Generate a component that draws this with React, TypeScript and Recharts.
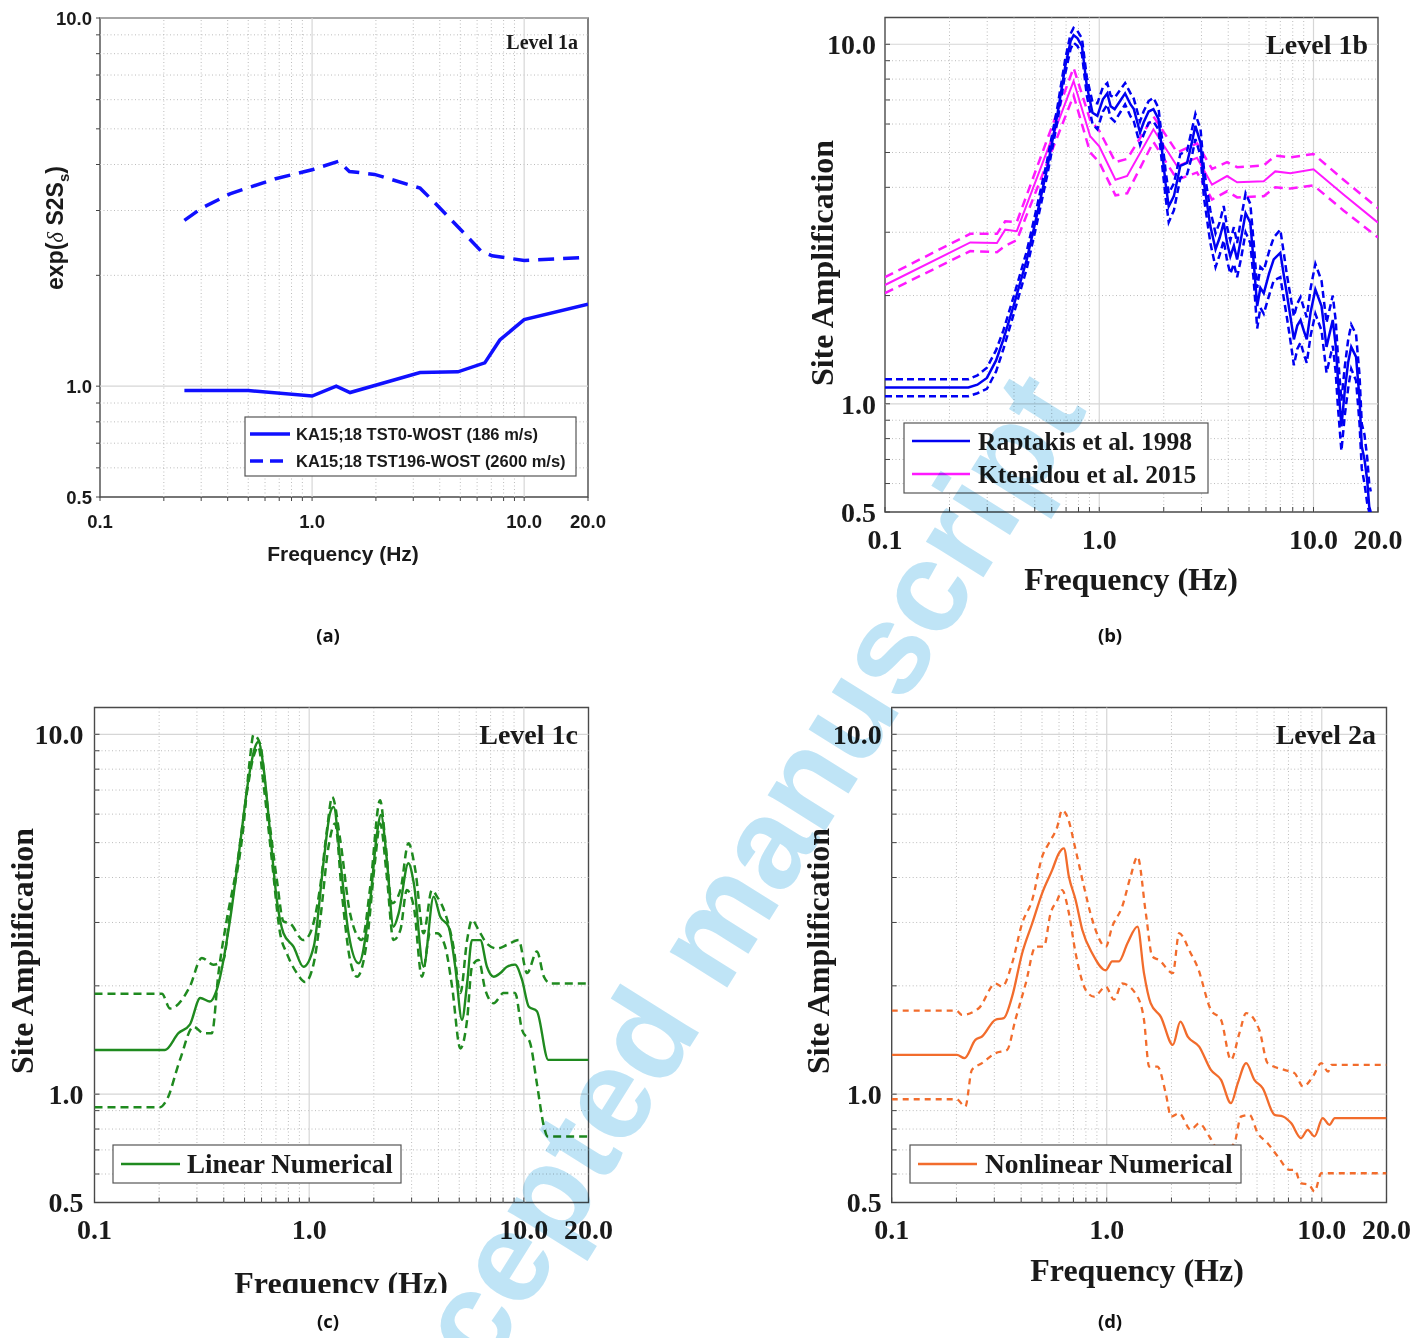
import React from 'react';
import { LineChart, Line, XAxis, YAxis, ReferenceLine, ReferenceArea } from 'recharts';

const SERIF = "'Liberation Serif', 'Times New Roman', Times, serif";
const SANS = "'Liberation Sans', Arial, Helvetica, sans-serif";

// ---------- ticks & grid ----------
const xTicks = [0.1, 0.2, 0.3, 0.4, 0.5, 0.6, 0.7, 0.8, 0.9, 1, 2, 3, 4, 5, 6, 7, 8, 9, 10, 20];
const xTickValues = [0.1, 1, 10, 20];
const xTickLabels = ['0.1', '1.0', '10.0', '20.0'];
const yTicks = [0.5, 0.6, 0.7, 0.8, 0.9, 1, 2, 3, 4, 5, 6, 7, 8, 9, 10];
const yTickValues = [0.5, 1, 10];
const yTickLabels = ['0.5', '1.0', '10.0'];
const xMinorGrid = [0.2, 0.3, 0.4, 0.5, 0.6, 0.7, 0.8, 0.9, 2, 3, 4, 5, 6, 7, 8, 9];
const xMajorGrid = [1, 10];
const yMinorGrid = [0.6, 0.7, 0.8, 0.9, 2, 3, 4, 5, 6, 7, 8, 9];
const yMajorGrid = [1, 10];

// ---------- Panel (a) ----------
const aSolidF = [0.25, 0.5, 1.0, 1.3, 1.51, 3.23, 4.87, 6.52, 7.68, 10, 20];
const aSolidV = [0.973, 0.973, 0.94, 1.0, 0.961, 1.089, 1.094, 1.157, 1.335, 1.516, 1.67];
const aDashF = [0.25, 0.3, 0.41, 0.673, 1.0, 1.33, 1.5, 1.97, 3.23, 3.81, 4.87, 6.25, 7.06, 10, 20];
const aDashV = [2.82, 3.04, 3.33, 3.66, 3.87, 4.08, 3.83, 3.76, 3.45, 3.14, 2.71, 2.33, 2.26, 2.195, 2.24];

// ---------- Panel (b) ----------
const bRapF = [0.1, 0.245, 0.27, 0.299, 0.33, 0.357, 0.398, 0.459, 0.51, 0.57, 0.636, 0.694, 0.735, 0.759, 0.79, 0.83, 0.875, 0.93, 0.98, 1.04, 1.09, 1.13, 1.18, 1.26, 1.32, 1.4, 1.45, 1.55, 1.61, 1.7, 1.79, 1.89, 1.96, 2.04, 2.11, 2.23, 2.39, 2.57, 2.7, 2.81, 2.97, 3.08, 3.3, 3.49, 3.65, 3.81, 3.95, 4.09, 4.25, 4.4, 4.6, 4.82, 5.07, 5.26, 5.46, 5.65, 5.86, 6.2, 6.52, 7.0, 7.25, 7.5, 7.8, 8.1, 8.4, 8.7, 9.0, 9.3, 9.7, 10.2, 10.9, 11.5, 12.3, 12.7, 13.0, 13.5, 14.0, 14.5, 15.0, 15.8, 16.4, 16.8, 17.3, 17.8, 18.2, 18.5];
const bRapV = [1.11, 1.11, 1.13, 1.18, 1.32, 1.51, 1.87, 2.52, 3.32, 4.49, 6.32, 8.69, 10.2, 10.6, 10.4, 9.9, 7.66, 6.45, 6.32, 7.03, 7.3, 6.72, 6.6, 7.0, 7.3, 6.8, 6.6, 5.68, 6.06, 6.5, 6.6, 6.2, 5.1, 4.1, 3.54, 3.78, 4.59, 4.68, 5.3, 5.93, 5.32, 4.12, 3.12, 2.69, 2.9, 3.19, 2.8, 2.57, 2.75, 2.52, 2.9, 3.39, 3.19, 2.47, 1.87, 2.1, 2.03, 2.3, 2.52, 2.63, 2.3, 2.03, 1.75, 1.51, 1.65, 1.71, 1.6, 1.51, 1.8, 2.08, 1.87, 1.44, 1.71, 1.45, 1.17, 0.865, 1.09, 1.3, 1.44, 1.35, 1.03, 0.76, 0.7, 0.614, 0.518, 0.5];
const bRapUpV = [1.17, 1.17, 1.2, 1.26, 1.41, 1.6, 1.98, 2.66, 3.5, 4.72, 6.62, 9.1, 10.7, 11.1, 10.9, 10.4, 8.1, 6.9, 6.85, 7.6, 7.8, 7.2, 7.1, 7.5, 7.8, 7.3, 7.05, 6.1, 6.5, 6.95, 7.1, 6.65, 5.5, 4.45, 3.85, 4.1, 4.95, 5.05, 5.75, 6.4, 5.8, 4.5, 3.45, 2.98, 3.2, 3.55, 3.1, 2.85, 3.1, 2.8, 3.3, 3.85, 3.6, 2.8, 2.1, 2.4, 2.35, 2.65, 2.9, 3.05, 2.65, 2.3, 2.0, 1.75, 1.9, 1.98, 1.85, 1.74, 2.1, 2.45, 2.2, 1.68, 2.0, 1.7, 1.36, 1.02, 1.27, 1.5, 1.66, 1.56, 1.2, 0.88, 0.82, 0.71, 0.6, 0.57];
const bRapLoV = [1.05, 1.05, 1.07, 1.1, 1.23, 1.42, 1.77, 2.38, 3.15, 4.28, 6.05, 8.3, 9.7, 10.1, 9.9, 9.4, 7.2, 6.0, 5.8, 6.5, 6.8, 6.25, 6.1, 6.5, 6.8, 6.3, 6.1, 5.25, 5.6, 6.05, 6.1, 5.8, 4.7, 3.75, 3.2, 3.45, 4.25, 4.35, 4.85, 5.45, 4.9, 3.75, 2.8, 2.4, 2.6, 2.85, 2.5, 2.3, 2.45, 2.25, 2.55, 3.0, 2.8, 2.2, 1.62, 1.85, 1.78, 2.0, 2.2, 2.25, 1.98, 1.75, 1.5, 1.28, 1.42, 1.48, 1.38, 1.3, 1.55, 1.78, 1.6, 1.22, 1.45, 1.22, 0.98, 0.74, 0.93, 1.1, 1.25, 1.16, 0.88, 0.66, 0.6, 0.53, 0.5, 0.5];
const bKtF = [0.1, 0.25, 0.333, 0.364, 0.412, 0.759, 0.907, 1.0, 1.19, 1.35, 1.79, 2.31, 2.86, 3.36, 3.95, 4.4, 5.86, 6.63, 7.8, 10, 13.8, 20];
const bKtV = [2.14, 2.81, 2.8, 3.05, 3.02, 7.9, 5.55, 5.2, 4.2, 4.3, 5.8, 4.58, 4.83, 4.07, 4.3, 4.13, 4.16, 4.43, 4.38, 4.49, 3.82, 3.19];
const bKtUpV = [2.25, 2.97, 2.97, 3.22, 3.2, 8.6, 6.15, 5.75, 4.7, 4.8, 6.3, 5.0, 5.3, 4.5, 4.7, 4.55, 4.6, 4.9, 4.85, 4.95, 4.2, 3.5];
const bKtLoV = [2.03, 2.66, 2.64, 2.75, 2.85, 7.2, 5.0, 4.7, 3.8, 3.85, 5.35, 4.2, 4.4, 3.7, 3.9, 3.75, 3.78, 4.0, 3.97, 4.05, 3.45, 2.9];

// ---------- Panel (c) ----------
const cSolidF = [0.1, 0.213, 0.246, 0.278, 0.311, 0.345, 0.371, 0.428, 0.477, 0.521, 0.56, 0.58, 0.612, 0.658, 0.707, 0.759, 0.845, 0.94, 1.05, 1.17, 1.25, 1.3, 1.395, 1.525, 1.7, 1.925, 2.07, 2.16, 2.3, 2.47, 2.61, 2.9, 3.07, 3.41, 3.8, 4.08, 4.46, 4.79, 5.15, 5.44, 5.73, 6.27, 6.73, 7.23, 7.77, 8.35, 9.1, 9.8, 10.55, 11.5, 13.0, 20];
const cSolidV = [1.327, 1.327, 1.477, 1.56, 1.85, 1.81, 1.95, 3.05, 4.98, 7.47, 9.23, 9.53, 8.14, 5.31, 3.46, 2.8, 2.57, 2.26, 2.57, 4.48, 6.03, 6.28, 4.48, 2.8, 2.31, 3.46, 5.31, 5.97, 4.48, 2.92, 3.18, 4.38, 3.86, 2.26, 3.54, 3.11, 2.92, 2.26, 1.61, 2.03, 2.68, 2.68, 2.26, 2.12, 2.17, 2.26, 2.29, 2.08, 1.75, 1.7, 1.245, 1.245];
const cUpF = [0.1, 0.206, 0.225, 0.278, 0.316, 0.358, 0.398, 0.428, 0.494, 0.531, 0.55, 0.59, 0.635, 0.707, 0.759, 0.815, 0.94, 1.01, 1.125, 1.21, 1.28, 1.395, 1.55, 1.76, 1.925, 2.14, 2.26, 2.43, 2.66, 2.9, 3.12, 3.41, 3.73, 3.94, 4.3, 4.7, 5.06, 5.44, 5.73, 6.15, 6.73, 7.51, 8.35, 9.45, 10.35, 11.5, 12.4, 13.3, 20];
const cUpV = [1.9, 1.9, 1.73, 1.99, 2.39, 2.29, 2.36, 3.18, 5.54, 8.66, 9.96, 9.43, 6.56, 3.94, 3.02, 2.98, 2.68, 2.8, 3.77, 5.42, 6.7, 5.09, 3.18, 2.68, 3.77, 6.56, 5.09, 3.39, 3.69, 4.98, 4.2, 2.8, 3.69, 3.54, 3.18, 2.57, 1.91, 2.68, 3.05, 2.86, 2.62, 2.54, 2.6, 2.68, 2.17, 2.49, 2.12, 2.03, 2.03];
const cLoF = [0.1, 0.202, 0.217, 0.25, 0.289, 0.322, 0.352, 0.378, 0.413, 0.46, 0.512, 0.55, 0.58, 0.612, 0.67, 0.732, 0.787, 0.876, 0.958, 1.05, 1.125, 1.23, 1.32, 1.42, 1.55, 1.67, 1.86, 2.03, 2.14, 2.3, 2.47, 2.66, 2.85, 3.07, 3.35, 3.66, 3.94, 4.3, 4.63, 5.06, 5.44, 5.73, 6.15, 6.61, 7.23, 8.05, 9.1, 9.8, 10.7, 11.5, 12.4, 12.9, 20];
const cLoV = [0.92, 0.92, 0.964, 1.245, 1.54, 1.477, 1.477, 2.17, 3.05, 4.29, 6.85, 8.66, 9.23, 7.3, 4.48, 2.8, 2.46, 2.17, 2.05, 2.31, 3.05, 4.87, 5.65, 3.61, 2.36, 2.12, 2.68, 4.48, 5.65, 4.02, 2.68, 2.86, 3.69, 3.32, 2.12, 2.8, 2.8, 2.57, 1.99, 1.34, 1.61, 2.26, 2.36, 1.95, 1.79, 1.91, 1.91, 1.51, 1.386, 1.07, 0.813, 0.763, 0.763];

// ---------- Panel (d) ----------
const dSolidF = [0.1, 0.201, 0.218, 0.245, 0.263, 0.304, 0.332, 0.363, 0.404, 0.45, 0.501, 0.558, 0.599, 0.632, 0.667, 0.717, 0.77, 0.857, 0.99, 1.06, 1.14, 1.25, 1.39, 1.49, 1.6, 1.785, 2.03, 2.2, 2.38, 2.69, 3.05, 3.4, 3.78, 4.07, 4.45, 4.86, 5.31, 6.03, 6.6, 7.2, 8.0, 8.6, 9.25, 10.1, 10.85, 11.5, 20];
const dSolidV = [1.286, 1.286, 1.259, 1.415, 1.446, 1.61, 1.626, 1.866, 2.46, 2.98, 3.62, 4.2, 4.67, 4.82, 4.02, 3.46, 2.86, 2.46, 2.21, 2.34, 2.34, 2.63, 2.92, 2.17, 1.79, 1.64, 1.37, 1.59, 1.446, 1.356, 1.168, 1.096, 0.944, 1.073, 1.22, 1.096, 1.04, 0.876, 0.867, 0.831, 0.755, 0.796, 0.763, 0.858, 0.822, 0.858, 0.858];
const dUpF = [0.1, 0.2, 0.212, 0.254, 0.304, 0.326, 0.363, 0.404, 0.45, 0.501, 0.538, 0.589, 0.62, 0.656, 0.717, 0.784, 0.857, 0.99, 1.06, 1.18, 1.29, 1.39, 1.52, 1.63, 1.75, 2.03, 2.17, 2.46, 2.64, 3.05, 3.4, 3.78, 4.14, 4.45, 5.12, 5.6, 6.7, 7.47, 8.18, 9.1, 9.95, 10.7, 11.1, 20];
const dUpV = [1.707, 1.707, 1.66, 1.733, 2.03, 1.99, 2.31, 2.98, 3.46, 4.57, 4.98, 5.54, 6.16, 5.9, 4.77, 3.77, 3.05, 2.57, 2.92, 3.32, 4.02, 4.57, 3.18, 2.41, 2.36, 2.17, 2.8, 2.46, 2.26, 1.715, 1.61, 1.245, 1.477, 1.68, 1.51, 1.22, 1.168, 1.144, 1.05, 1.12, 1.22, 1.155, 1.206, 1.206];
const dLoF = [0.1, 0.2, 0.22, 0.236, 0.263, 0.304, 0.344, 0.376, 0.42, 0.467, 0.51, 0.548, 0.589, 0.62, 0.667, 0.717, 0.798, 0.873, 0.99, 1.08, 1.18, 1.39, 1.49, 1.575, 1.72, 1.885, 1.99, 2.17, 2.46, 2.69, 3.0, 3.4, 3.92, 4.21, 4.61, 5.04, 5.6, 6.25, 7.08, 7.47, 8.0, 8.73, 9.25, 9.95, 20];
const dLoV = [0.968, 0.968, 0.924, 1.168, 1.22, 1.3, 1.327, 1.61, 2.03, 2.57, 2.57, 3.18, 3.46, 3.69, 3.18, 2.46, 1.95, 1.866, 1.99, 1.83, 2.03, 1.866, 1.61, 1.193, 1.193, 1.0, 0.866, 0.885, 0.796, 0.83, 0.763, 0.686, 0.731, 0.866, 0.876, 0.779, 0.731, 0.671, 0.616, 0.616, 0.566, 0.56, 0.536, 0.603, 0.603];

// ---------- colours ----------
const BLUE_A = '#1010ff';
const BLUE_B = '#0000f2';
const MAGENTA = '#ff19ff';
const GREEN = '#1f8a1f';
const ORANGE = '#f26c2c';

type Pt = { f: number; v: number };
const zip = (f: number[], v: number[]): Pt[] => f.map((x, i) => ({ f: x, v: v[i] }));

type Series = { f: number[]; v: number[]; color: string; width: number; dash?: string; curve: 'linear' | 'monotone' };
type Cfg = {
  box: { x: number; y: number; w: number; h: number };
  plot: { l: number; t: number; r: number; b: number };
  yMax: number;
  series: Series[];
  font: string;
  tickFontSize: number;
  tickSize: number;
  xTickMargin: number;
  yTickMargin: number;
  xTitle: { text: string; x: number; y: number; size: number };
  yTitle: { x: number; y: number; size: number; node: React.ReactNode };
};

function Panel({ cfg }: { cfg: Cfg }) {
  const { box, plot } = cfg;
  const yW = 40;
  const xH = 40;
  const margin = {
    left: plot.l - box.x - yW,
    right: box.x + box.w - plot.r,
    top: plot.t - box.y,
    bottom: box.y + box.h - plot.b - xH,
  };
  const fmtX = (v: number) => {
    const i = xTickValues.indexOf(v);
    return i < 0 ? '' : xTickLabels[i];
  };
  const fmtY = (v: number) => {
    const i = yTickValues.indexOf(v);
    return i < 0 ? '' : yTickLabels[i];
  };
  const tickStyle = { fill: '#1a1a1a', fontSize: cfg.tickFontSize, fontFamily: cfg.font, fontWeight: 700 };
  const XTitle = () => (
    <text
      x={cfg.xTitle.x - box.x}
      y={cfg.xTitle.y - box.y}
      textAnchor="middle"
      dominantBaseline="central"
      fill="#1a1a1a"
      style={{ fontFamily: cfg.font, fontSize: cfg.xTitle.size, fontWeight: 700 }}
    >
      {cfg.xTitle.text}
    </text>
  );
  const YTitle = () => {
    const x = cfg.yTitle.x - box.x;
    const y = cfg.yTitle.y - box.y;
    return (
      <text
        x={x}
        y={y}
        transform={`rotate(-90 ${x} ${y})`}
        textAnchor="middle"
        dominantBaseline="central"
        fill="#1a1a1a"
        style={{ fontFamily: cfg.font, fontSize: cfg.yTitle.size, fontWeight: 700 }}
      >
        {cfg.yTitle.node}
      </text>
    );
  };
  return (
    <div style={{ position: 'absolute', left: box.x, top: box.y, width: box.w, height: box.h, overflow: 'hidden' }}>
      <LineChart width={box.w} height={box.h} margin={margin}>
        <XAxis
          dataKey="f"
          type="number"
          scale="log"
          domain={[0.1, 20]}
          allowDataOverflow
          ticks={xTicks}
          interval={0}
          tickFormatter={fmtX}
          tickSize={cfg.tickSize}
          tickMargin={cfg.xTickMargin}
          axisLine={false}
          tickLine={{ stroke: '#444', strokeWidth: 1 }}
          tick={tickStyle}
          height={xH}
          label={XTitle}
        />
        <YAxis
          type="number"
          scale="log"
          domain={[0.5, cfg.yMax]}
          allowDataOverflow
          ticks={yTicks}
          interval={0}
          tickFormatter={fmtY}
          tickSize={cfg.tickSize}
          tickMargin={cfg.yTickMargin}
          axisLine={false}
          tickLine={{ stroke: '#444', strokeWidth: 1 }}
          tick={tickStyle}
          width={yW}
          label={YTitle}
        />
        {xMinorGrid.map((g) => (
          <ReferenceLine key={'xm' + g} x={g} stroke="#bcbcbc" strokeWidth={1} strokeDasharray="1 2.5" />
        ))}
        {yMinorGrid.map((g) => (
          <ReferenceLine key={'ym' + g} y={g} stroke="#bcbcbc" strokeWidth={1} strokeDasharray="1 2.5" />
        ))}
        {xMajorGrid.map((g) => (
          <ReferenceLine key={'xM' + g} x={g} stroke="#d6d6d6" strokeWidth={1.2} />
        ))}
        {yMajorGrid.map((g) => (
          <ReferenceLine key={'yM' + g} y={g} stroke="#d6d6d6" strokeWidth={1.2} />
        ))}
        {cfg.series.map((s, i) => (
          <Line
            key={i}
            data={zip(s.f, s.v)}
            dataKey="v"
            type={s.curve}
            stroke={s.color}
            strokeWidth={s.width}
            strokeDasharray={s.dash}
            dot={false}
            activeDot={false}
            isAnimationActive={false}
          />
        ))}
        <ReferenceArea
          x1={0.1}
          x2={20}
          y1={0.5}
          y2={cfg.yMax}
          fill="none"
          fillOpacity={0}
          stroke="#4a4a4a"
          strokeWidth={1.4}
          ifOverflow="visible"
        />
      </LineChart>
    </div>
  );
}

const YMAX = 11.87;

const panelA: Cfg = {
  box: { x: 0, y: 0, w: 620, h: 590 },
  plot: { l: 100, t: 18, r: 588, b: 497 },
  yMax: 10,
  series: [
    { f: aDashF, v: aDashV, color: BLUE_A, width: 3.5, dash: '16 9', curve: 'linear' },
    { f: aSolidF, v: aSolidV, color: BLUE_A, width: 3.5, curve: 'linear' },
  ],
  font: SANS,
  tickFontSize: 18.5,
  tickSize: 4,
  xTickMargin: 13.4,
  yTickMargin: 4,
  xTitle: { text: 'Frequency (Hz)', x: 343, y: 553, size: 21 },
  yTitle: {
    x: 55,
    y: 228,
    size: 23,
    node: (
      <>
        exp(
        <tspan style={{ fontFamily: SERIF, fontStyle: 'italic', fontWeight: 400 }}>δ</tspan> S2S
        <tspan baselineShift="sub" style={{ fontSize: 15 }}>s</tspan>)
      </>
    ),
  },
};

const panelB: Cfg = {
  box: { x: 720, y: 0, w: 707, h: 605 },
  plot: { l: 885, t: 17.5, r: 1378, b: 512 },
  yMax: YMAX,
  series: [
    { f: bKtF, v: bKtUpV, color: MAGENTA, width: 2.5, dash: '9 6', curve: 'linear' },
    { f: bKtF, v: bKtLoV, color: MAGENTA, width: 2.5, dash: '9 6', curve: 'linear' },
    { f: bKtF, v: bKtV, color: MAGENTA, width: 2, curve: 'linear' },
    { f: bRapF, v: bRapUpV, color: BLUE_B, width: 2.5, dash: '7 4', curve: 'linear' },
    { f: bRapF, v: bRapLoV, color: BLUE_B, width: 2.5, dash: '7 4', curve: 'linear' },
    { f: bRapF, v: bRapV, color: BLUE_B, width: 2.5, curve: 'linear' },
  ],
  font: SERIF,
  tickFontSize: 28,
  tickSize: -5,
  xTickMargin: 22.6,
  yTickMargin: 14,
  xTitle: { text: 'Frequency (Hz)', x: 1131, y: 579, size: 32 },
  yTitle: { x: 822, y: 263, size: 32, node: 'Site Amplification' },
};

const panelC: Cfg = {
  box: { x: 0, y: 660, w: 640, h: 633 },
  plot: { l: 94.5, t: 707.5, r: 588.5, b: 1202.5 },
  yMax: YMAX,
  series: [
    { f: cUpF, v: cUpV, color: GREEN, width: 2.5, dash: '8 5', curve: 'monotone' },
    { f: cLoF, v: cLoV, color: GREEN, width: 2.5, dash: '8 5', curve: 'monotone' },
    { f: cSolidF, v: cSolidV, color: GREEN, width: 2.4, curve: 'monotone' },
  ],
  font: SERIF,
  tickFontSize: 28,
  tickSize: -5,
  xTickMargin: 22,
  yTickMargin: 16,
  xTitle: { text: 'Frequency (Hz)', x: 341, y: 1283, size: 32 },
  yTitle: { x: 22, y: 951, size: 32, node: 'Site Amplification' },
};

const panelD: Cfg = {
  box: { x: 720, y: 660, w: 707, h: 633 },
  plot: { l: 891.7, t: 707.5, r: 1386.5, b: 1202.5 },
  yMax: YMAX,
  series: [
    { f: dUpF, v: dUpV, color: ORANGE, width: 2.3, dash: '6 5', curve: 'monotone' },
    { f: dLoF, v: dLoV, color: ORANGE, width: 2.3, dash: '6 5', curve: 'monotone' },
    { f: dSolidF, v: dSolidV, color: ORANGE, width: 2.3, curve: 'monotone' },
  ],
  font: SERIF,
  tickFontSize: 28,
  tickSize: -5,
  xTickMargin: 22,
  yTickMargin: 15,
  xTitle: { text: 'Frequency (Hz)', x: 1137, y: 1270, size: 32 },
  yTitle: { x: 818, y: 951, size: 32, node: 'Site Amplification' },
};

function Overlay() {
  const serifBold = { fontFamily: SERIF, fontWeight: 700 } as const;
  const sansBold = { fontFamily: SANS, fontWeight: 700 } as const;
  const capStyle = { fontFamily: "'Open Sans', 'Noto Sans', Arial, sans-serif", fontWeight: 700, fontSize: 18.5 } as const;
  return (
    <svg width={1427} height={1338} style={{ position: 'absolute', left: 0, top: 0, pointerEvents: 'none' }}>
      {/* panel titles */}
      <text x={578} y={49} textAnchor="end" fill="#1a1a1a" style={{ ...serifBold, fontSize: 20 }}>Level 1a</text>
      <text x={1368} y={54} textAnchor="end" fill="#1a1a1a" style={{ ...serifBold, fontSize: 28 }}>Level 1b</text>
      <text x={578} y={744} textAnchor="end" fill="#1a1a1a" style={{ ...serifBold, fontSize: 28 }}>Level 1c</text>
      <text x={1376} y={744} textAnchor="end" fill="#1a1a1a" style={{ ...serifBold, fontSize: 28 }}>Level 2a</text>

      {/* legend a */}
      <rect x={245} y={417} width={331} height={59} fill="#fff" stroke="#555" strokeWidth={1.2} />
      <line x1={250} x2={290} y1={434} y2={434} stroke={BLUE_A} strokeWidth={3.5} />
      <line x1={250} x2={290} y1={461} y2={461} stroke={BLUE_A} strokeWidth={3.5} strokeDasharray="13 7" />
      <text x={296} y={440} fill="#1a1a1a" style={{ ...sansBold, fontSize: 16.5 }}>KA15;18 TST0-WOST (186 m/s)</text>
      <text x={296} y={467} fill="#1a1a1a" style={{ ...sansBold, fontSize: 16.5 }}>KA15;18 TST196-WOST (2600 m/s)</text>

      {/* legend b */}
      <rect x={904} y={423} width={304} height={70} fill="#fff" stroke="#555" strokeWidth={1.2} />
      <line x1={912} x2={970} y1={441} y2={441} stroke={BLUE_B} strokeWidth={2.5} />
      <line x1={912} x2={970} y1={474} y2={474} stroke={MAGENTA} strokeWidth={2.5} />
      <text x={978} y={450} fill="#1a1a1a" style={{ ...serifBold, fontSize: 25.5 }}>Raptakis et al. 1998</text>
      <text x={978} y={483} fill="#1a1a1a" style={{ ...serifBold, fontSize: 25.5 }}>Ktenidou et al. 2015</text>

      {/* legend c */}
      <rect x={113} y={1145} width={288} height={38} fill="#fff" stroke="#555" strokeWidth={1.2} />
      <line x1={121} x2={180} y1={1164} y2={1164} stroke={GREEN} strokeWidth={2.5} />
      <text x={187} y={1173} fill="#1a1a1a" style={{ ...serifBold, fontSize: 27 }}>Linear Numerical</text>

      {/* legend d */}
      <rect x={910} y={1145} width={331} height={38} fill="#fff" stroke="#555" strokeWidth={1.2} />
      <line x1={918} x2={977} y1={1164} y2={1164} stroke={ORANGE} strokeWidth={2.5} />
      <text x={985} y={1173} fill="#1a1a1a" style={{ ...serifBold, fontSize: 27.5 }}>Nonlinear Numerical</text>

      {/* captions */}
      <text x={328} y={642} textAnchor="middle" fill="#111" style={capStyle}>(a)</text>
      <text x={1110} y={642} textAnchor="middle" fill="#111" style={capStyle}>(b)</text>
      <text x={328} y={1328} textAnchor="middle" fill="#111" style={capStyle}>(c)</text>
      <text x={1110} y={1328} textAnchor="middle" fill="#111" style={capStyle}>(d)</text>
    </svg>
  );
}

function Watermark() {
  return (
    <svg
      width={1427}
      height={1338}
      style={{ position: 'absolute', left: 0, top: 0, pointerEvents: 'none', mixBlendMode: 'multiply' }}
    >
      <text
        x={1088}
        y={410}
        textAnchor="end"
        transform="rotate(-58 1088 410)"
        fill="#bfe4f6"
        style={{ fontFamily: SANS, fontWeight: 700, fontSize: 128 }}
      >
        Accepted manuscript
      </text>
    </svg>
  );
}

export default function App() {
  return (
    <div style={{ position: 'absolute', left: 0, top: 0, width: 1427, height: 1338, background: '#fff', overflow: 'hidden' }}>
      <Panel cfg={panelA} />
      <Panel cfg={panelB} />
      <Panel cfg={panelC} />
      <Panel cfg={panelD} />
      <Overlay />
      <Watermark />
    </div>
  );
}
